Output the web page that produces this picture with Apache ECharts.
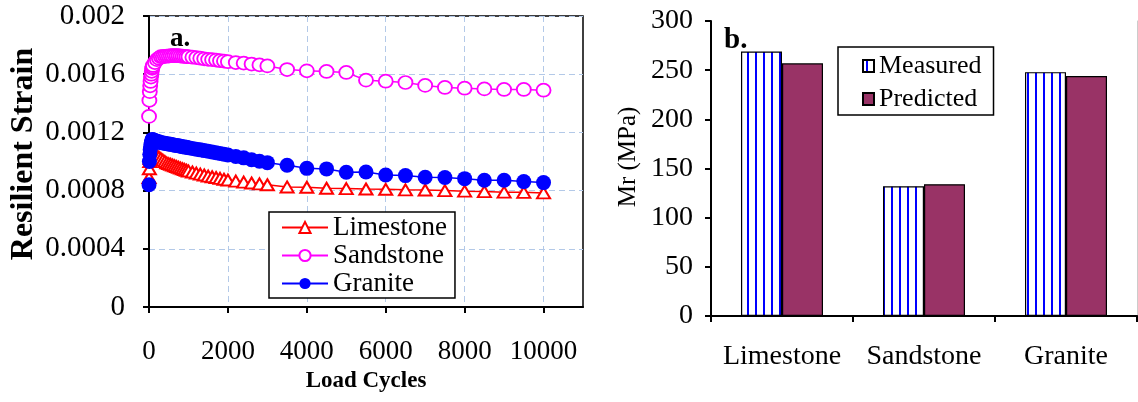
<!DOCTYPE html>
<html><head><meta charset="utf-8">
<script src="https://cdn.jsdelivr.net/npm/echarts@6/dist/echarts.min.js"></script>
<style>html,body{margin:0;padding:0;background:#fff}#c{width:1138px;height:402px}</style>
</head><body><div id="c"></div>
<script>
const loadCycles = [1,10,20,30,40,50,60,70,80,90,100,150,200,250,300,350,400,450,500,550,600,650,700,750,800,850,900,950,1000,1100,1200,1300,1400,1500,1600,1700,1800,1900,2000,2200,2400,2600,2800,3000,3500,4000,4500,5000,5500,6000,6500,7000,7500,8000,8500,9000,9500,10000];
const limestone = [0.00089,0.00095,0.00100,0.00102,0.00103,0.00104,0.001045,0.00105,0.00105,0.00105,0.00105,
  0.001045,0.00104,0.00103,0.00102,0.00101,0.001,0.00099,0.000985,0.00098,0.000975,0.00097,0.000965,0.00096,0.000955,0.00095,0.000945,0.00094,0.000935,
  0.000928,0.00092,0.000913,0.000907,0.0009,0.000895,0.00089,0.000884,0.000878,0.000873,
  0.000865,0.000858,0.000852,0.000846,0.00084,
  0.000825,0.000823,0.000816,0.000814,0.000811,0.000809,0.000805,0.000804,0.0008,0.000796,0.000793,0.000789,0.000788,0.000784];
const sandstone = [0.00131,0.00142,0.00148,0.00152,0.00155,0.00158,0.0016,0.00162,0.00164,0.00165,0.00166,
  0.00168,0.0017,0.00171,0.00172,0.00172,0.001723,0.001725,0.001725,0.001727,0.001727,0.001728,0.001727,0.001727,0.001725,0.001724,0.001722,0.00172,0.00172,
  0.001717,0.001714,0.00171,0.001706,0.001702,0.0017,0.001697,0.001693,0.00169,0.001686,
  0.00168,0.001676,0.00167,0.001664,0.001657,
  0.001632,0.001623,0.001619,0.001612,0.001559,0.001552,0.001543,0.001523,0.001509,0.001504,0.001499,0.001495,0.001495,0.00149];
const granite = [0.00084,0.001,0.00105,0.00108,0.0011,0.00112,0.00113,0.00114,0.00115,0.00115,0.00115,
  0.001145,0.00114,0.001135,0.00113,0.001128,0.001125,0.001122,0.00112,0.001118,0.001115,0.001112,0.00111,0.001108,0.001105,0.001102,0.0011,0.001098,0.001095,
  0.00109,0.001085,0.00108,0.001075,0.00107,0.001065,0.00106,0.001055,0.00105,0.001045,
  0.001035,0.001025,0.001012,0.001002,0.000992,
  0.000974,0.000953,0.000949,0.000926,0.000928,0.000907,0.000903,0.000892,0.00089,0.000882,0.000871,0.000871,0.000862,0.000855];
const cycleTicks = [0,2000,4000,6000,8000,10000];
const strainTicks = [0,0.0004,0.0008,0.0012,0.0016,0.002];
const materials = ['Limestone','Sandstone','Granite'];
const measured = [269,132,248];
const predicted = [257,134,244];
const mrTicks = [0,50,100,150,200,250,300];

const FONT = "'Liberation Serif','Times New Roman',serif";
const chart = echarts.init(document.getElementById('c'), null, {renderer:'canvas'});

const pc = document.createElement('canvas'); pc.width = 8; pc.height = 8;
const g = pc.getContext('2d');
g.fillStyle = '#ffffff'; g.fillRect(0,0,8,8);
g.fillStyle = '#0000ff'; g.fillRect(3,0,2,8);

function pair(ys){ return loadCycles.map((x,i)=>[x, ys[i]]); }
function fmtStrain(v){ return String(parseFloat(v.toFixed(6))); }

const axisLineBlack = {show:true, lineStyle:{color:'#000', width:2}};
const tick = {show:true, inside:false, length:6, lineStyle:{color:'#000', width:2}};

chart.setOption({
  animation:false,
  backgroundColor:'#fff',
  grid:[
    {left:149, top:16, right:555, bottom:95, show:true, borderColor:'#000', borderWidth:1.5, containLabel:false},
    {left:711, top:21, right:1, bottom:86, containLabel:false}
  ],
  legend:[
    {data:['Limestone','Sandstone','Granite'], orient:'vertical', left:269, top:212,
     padding:[2,8,1,12], itemGap:1, itemWidth:46, itemHeight:14,
     borderColor:'#000', borderWidth:1.5, backgroundColor:'#fff',
     textStyle:{fontFamily:FONT, fontSize:27, color:'#000', lineHeight:27}},
    {data:['Measured','Predicted'], orient:'vertical', left:838, top:47,
     padding:[6,12,3,24], itemGap:7, itemWidth:11, itemHeight:12, icon:'rect',
     borderColor:'#000', borderWidth:1.5, backgroundColor:'#fff',
     textStyle:{fontFamily:FONT, fontSize:26, color:'#000', lineHeight:26}}
  ],
  xAxis:[
    {type:'value', gridIndex:0, min:0, max:11000, interval:2000,
     name:'Load Cycles', nameLocation:'middle', nameGap:63,
     nameTextStyle:{fontFamily:FONT, fontSize:23, fontWeight:'bold', color:'#000'},
     axisLine:axisLineBlack, axisTick:Object.assign({customValues:cycleTicks}, tick),
     axisLabel:{customValues:cycleTicks, margin:31, fontFamily:FONT, fontSize:27, color:'#000',
       formatter:v=> cycleTicks.indexOf(v)>=0 ? String(v) : ''},
     splitLine:{show:true, lineStyle:{color:'#b3c9e8', type:[6,4], width:1}}},
    {type:'category', gridIndex:1, data:materials,
     axisLine:axisLineBlack, axisTick:Object.assign({alignWithLabel:false, interval:0}, tick),
     axisLabel:{interval:0, margin:27, fontFamily:FONT, fontSize:28, color:'#000'},
     splitLine:{show:false}},
    {type:'category', gridIndex:1, data:materials, position:'top',
     axisLine:{show:true, lineStyle:{color:'#000', width:1.5}}, axisTick:{show:false}, axisLabel:{show:false}}
  ],
  yAxis:[
    {type:'value', gridIndex:0, min:0, max:0.002, interval:0.0004,
     axisLine:axisLineBlack, axisTick:tick,
     axisLabel:{margin:24, fontFamily:FONT, fontSize:29, color:'#000', formatter:fmtStrain},
     splitLine:{show:true, lineStyle:{color:'#b3c9e8', type:[6,4], width:1}}},
    {type:'value', gridIndex:1, min:0, max:300, interval:50,
     axisLine:axisLineBlack, axisTick:tick,
     axisLabel:{margin:18, fontFamily:FONT, fontSize:28, color:'#000'},
     splitLine:{show:false}},
    {type:'value', gridIndex:1, min:0, max:300, interval:50, position:'right',
     axisLine:{show:true, lineStyle:{color:'#cccccc', width:1}}, axisTick:{show:false}, axisLabel:{show:false}, splitLine:{show:false}}
  ],
  series:[
    {name:'Limestone', type:'line', xAxisIndex:0, yAxisIndex:0, data:pair(limestone),
     symbol:'triangle', symbolSize:[13,11], showAllSymbol:true,
     lineStyle:{color:'#ff0000', width:1.5},
     itemStyle:{color:'#ffffff', borderColor:'#ff0000', borderWidth:2}},
    {name:'Sandstone', type:'line', xAxisIndex:0, yAxisIndex:0, data:pair(sandstone),
     symbol:'circle', symbolSize:[14,13], showAllSymbol:true,
     lineStyle:{color:'#ff00ff', width:1.5},
     itemStyle:{color:'#ffffff', borderColor:'#ff00ff', borderWidth:1.8}},
    {name:'Granite', type:'line', xAxisIndex:0, yAxisIndex:0, data:pair(granite),
     symbol:'circle', symbolSize:15, showAllSymbol:true,
     lineStyle:{color:'#0000ff', width:1.5},
     itemStyle:{color:'#0000ff', borderColor:'#0000ff', borderWidth:0}},
    {name:'Measured', type:'bar', xAxisIndex:1, yAxisIndex:1, data:measured,
     barWidth:41, barGap:'0%',
     itemStyle:{color:{image:pc, repeat:'repeat'}, borderColor:'#000', borderWidth:1.2}},
    {name:'Predicted', type:'bar', xAxisIndex:1, yAxisIndex:1, data:predicted,
     barWidth:41, barGap:'0%',
     itemStyle:{color:'#993366', borderColor:'#000', borderWidth:1.2}}
  ],
  graphic:[
    {type:'text', left:170, top:26, style:{text:'a.', fontFamily:FONT, fontSize:27, fontWeight:'bold', fill:'#000'}},
    {type:'text', left:724, top:26, style:{text:'b.', fontFamily:FONT, fontSize:29, fontWeight:'bold', fill:'#000'}},
    {type:'text', x:24, y:154, rotation:Math.PI/2,
     style:{text:'Resilient Strain', fontFamily:FONT, fontSize:32, fontWeight:'bold', fill:'#000', align:'center', verticalAlign:'middle'}},
    {type:'text', x:628, y:157, rotation:Math.PI/2,
     style:{text:'Mr (MPa)', fontFamily:FONT, fontSize:25, fill:'#000', align:'center', verticalAlign:'middle'}}
  ]
});
</script></body></html>
